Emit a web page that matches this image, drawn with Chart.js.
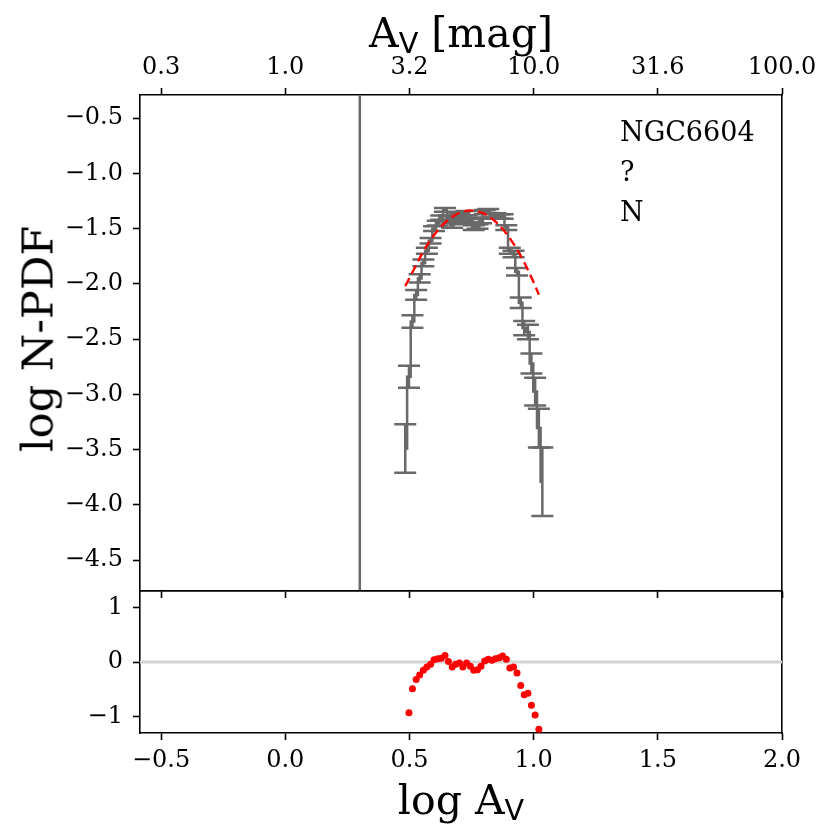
<!DOCTYPE html>
<html>
<head>
<meta charset="utf-8">
<title>NGC6604 N-PDF</title>
<script src="https://cdn.jsdelivr.net/npm/chart.js@4.4.1/dist/chart.umd.min.js"></script>
<style>
  body { margin: 0; background: #fff; }
  #wrap { position: relative; width: 830px; height: 840px; font-family: 'DejaVu Serif', serif; color: #000; }
  canvas { position: absolute; left: 0; top: 0; }
  .title { position: absolute; white-space: nowrap; line-height: 1; font-size: 41px; }
  .title sub { font-family: 'DejaVu Sans', sans-serif; font-size: 0.7em; vertical-align: baseline; position: relative; top: 0.22em; }
  #notes { position: absolute; left: 620px; top: 112px; font-size: 27px; line-height: 40px; }
</style>
</head>
<body>
<div id="wrap">
  <canvas id="main" width="830" height="840"></canvas>
  <canvas id="resid" width="830" height="840"></canvas>
  <div class="title" style="left:461px; top:13px; transform:translateX(-50%);">A<sub>V</sub> [mag]</div>
  <div class="title" style="left:461px; top:780px; transform:translateX(-50%);">log A<sub>V</sub></div>
  <div class="title" style="left:38px; top:339px; font-size:43px; transform:translate(-50%,-50%) rotate(-90deg);">log N-PDF</div>
  <div id="notes">NGC6604<br>?<br>N</div>
</div>
<script>
// binned N-PDF (log Av, log N-PDF, 1-sigma error)
const logAv = [0.483, 0.498, 0.512, 0.527, 0.541, 0.556, 0.570, 0.585, 0.599, 0.614,
               0.628, 0.643, 0.657, 0.672, 0.686, 0.701, 0.715, 0.730, 0.745, 0.759,
               0.774, 0.788, 0.803, 0.817, 0.832, 0.846, 0.861, 0.875, 0.890, 0.904,
               0.919, 0.933, 0.948, 0.962, 0.977, 0.991, 1.006, 1.021, 1.035];
const logPdf = [-3.49, -2.84, -2.34, -2.10, -1.95, -1.81, -1.70, -1.61, -1.50, -1.45,
                -1.40, -1.33, -1.40, -1.47, -1.41, -1.38, -1.44, -1.36, -1.42, -1.49,
                -1.48, -1.43, -1.35, -1.34, -1.38, -1.38, -1.39, -1.39, -1.49, -1.70,
                -1.73, -1.89, -2.17, -2.40, -2.435, -2.72, -2.975, -3.305, -3.79];
const pdfErr = [0.22, 0.10, 0.056, 0.044, 0.037, 0.031, 0.028, 0.025, 0.022, 0.021,
                0.020, 0.018, 0.020, 0.021, 0.020, 0.019, 0.020, 0.019, 0.020, 0.021,
                0.021, 0.020, 0.019, 0.019, 0.019, 0.019, 0.020, 0.020, 0.022, 0.028,
                0.029, 0.034, 0.048, 0.065, 0.065, 0.09, 0.125, 0.175, 0.31];

// lognormal fit (red dashed)
const fitLogAv = [0.483, 0.52, 0.56, 0.60, 0.64, 0.68, 0.72, 0.76, 0.80, 0.84, 0.88, 0.92, 0.96, 1.00, 1.021];
const fitLogPdf = [-2.02, -1.86, -1.69, -1.555, -1.452, -1.382, -1.343, -1.338, -1.364, -1.424, -1.516, -1.64, -1.797, -1.986, -2.098];

// residuals, null where outside the panel
const residual = [null, -0.93, -0.49, -0.32, -0.24, -0.15, -0.09, -0.04, 0.04, 0.06,
                  0.07, 0.12, 0.01, -0.09, -0.04, -0.02, -0.09, -0.02, -0.08, -0.15,
                  -0.14, -0.08, 0.02, 0.05, 0.03, 0.06, 0.08, 0.11, 0.05, -0.11,
                  -0.09, -0.20, -0.43, -0.60, -0.57, -0.79, -0.97, -1.23, null];

const completenessLimit = 0.3;

// ticks
const xTickValues = [-0.5, 0.0, 0.5, 1.0, 1.5, 2.0];
const avTickLabels = ['0.3', '1.0', '3.2', '10.0', '31.6', '100.0'];
const yTickValues = [-4.5, -4.0, -3.5, -3.0, -2.5, -2.0, -1.5, -1.0, -0.5];
const residTickValues = [-1, 0, 1];

Chart.defaults.font.family = "'DejaVu Serif', serif";
Chart.defaults.font.size = 24;
Chart.defaults.color = '#000';
Chart.defaults.animation = false;

const GRAY = '#696969';
const LW = 1.6;

function fmt(v, d) {
  const s = Math.abs(v).toFixed(d);
  return v < -1e-9 ? '\u2212' + s : s;
}

function setTicks(values) {
  return (scale) => { scale.ticks = values.map(v => ({ value: v })); };
}

function tickGrid() {
  return { display: true, drawOnChartArea: false, drawTicks: true, tickLength: 7, tickColor: '#000', tickWidth: LW };
}

const border = { display: true, color: '#000', width: LW };

function spineOnly(position, minV, maxV) {
  return {
    type: 'linear', position: position, min: minV, max: maxV,
    ticks: { display: false },
    grid: { display: false },
    border: border,
    afterBuildTicks: setTicks([]),
    afterFit: (s) => { if (s.isHorizontal()) s.height = 0; else s.width = 0; }
  };
}

const errorBars = {
  id: 'errorBars',
  afterDatasetDraw(chart, args) {
    if (chart.data.datasets[args.index].label !== 'data') return;
    const { ctx, chartArea, scales: { x, y } } = chart;
    ctx.save();
    ctx.beginPath();
    ctx.rect(chartArea.left, chartArea.top, chartArea.width, chartArea.height);
    ctx.clip();
    ctx.strokeStyle = GRAY;
    ctx.lineWidth = 2.5;
    logAv.forEach((av, i) => {
      const px = x.getPixelForValue(av);
      const hi = y.getPixelForValue(logPdf[i] + pdfErr[i]);
      const lo = y.getPixelForValue(logPdf[i] - pdfErr[i]);
      ctx.beginPath();
      ctx.moveTo(px, hi); ctx.lineTo(px, lo);
      ctx.moveTo(px - 11, hi); ctx.lineTo(px + 11, hi);
      ctx.moveTo(px - 11, lo); ctx.lineTo(px + 11, lo);
      ctx.stroke();
    });
    ctx.restore();
  }
};

const X_MIN = -0.585, X_MAX = 2.0;
const Y_MIN = -4.78, Y_MAX = -0.29;
const R_MIN = -1.3, R_MAX = 1.3;

new Chart(document.getElementById('main'), {
  type: 'line',
  data: {
    datasets: [
      {
        label: 'fit',
        data: fitLogAv.map((x, i) => ({ x: x, y: fitLogPdf[i] })),
        borderColor: '#ff0000', borderWidth: 2.4, borderDash: [9, 5],
        pointRadius: 0, tension: 0.4, order: 0
      },
      {
        label: 'data',
        data: logAv.map((x, i) => ({ x: x, y: logPdf[i] })),
        borderColor: GRAY, borderWidth: 2.5, stepped: 'middle',
        pointRadius: 0, order: 1
      },
      {
        label: 'limit',
        data: [{ x: completenessLimit, y: Y_MIN - 1 }, { x: completenessLimit, y: Y_MAX + 1 }],
        borderColor: GRAY, borderWidth: 2.5, pointRadius: 0, order: 2
      }
    ]
  },
  options: {
    responsive: false,
    layout: { padding: { left: 0, top: 0, right: 48, bottom: 239 } },
    plugins: { legend: { display: false }, tooltip: { enabled: false } },
    scales: {
      x: {
        type: 'linear', position: 'bottom', min: X_MIN, max: X_MAX,
        ticks: { display: false },
        grid: tickGrid(), border: border,
        afterBuildTicks: setTicks(xTickValues),
        afterFit: (s) => { s.height = 10; }
      },
      xTop: {
        type: 'linear', position: 'top', min: X_MIN, max: X_MAX,
        ticks: { padding: 6, callback: (v) => avTickLabels[xTickValues.indexOf(v)] },
        grid: tickGrid(), border: border,
        afterBuildTicks: setTicks(xTickValues),
        afterFit: (s) => { s.height = 95; }
      },
      y: {
        type: 'linear', position: 'left', min: Y_MIN, max: Y_MAX,
        ticks: { padding: 10, callback: (v) => fmt(v, 1) },
        grid: tickGrid(), border: border,
        afterBuildTicks: setTicks(yTickValues),
        afterFit: (s) => { s.width = 140; }
      },
      yRight: spineOnly('right', Y_MIN, Y_MAX)
    }
  },
  plugins: [errorBars]
});

new Chart(document.getElementById('resid'), {
  type: 'line',
  data: {
    datasets: [
      {
        label: 'residual',
        data: logAv.map((x, i) => ({ x: x, y: residual[i] })),
        showLine: false, pointRadius: 3.5, pointBorderWidth: 0,
        pointBackgroundColor: '#ff0000', borderColor: '#ff0000', order: 0
      },
      {
        label: 'zero',
        data: [{ x: X_MIN - 1, y: 0 }, { x: X_MAX + 1, y: 0 }],
        borderColor: '#d3d3d3', borderWidth: 3, pointRadius: 0, order: 1
      }
    ]
  },
  options: {
    responsive: false,
    layout: { padding: { left: 0, top: 591, right: 48, bottom: 0 } },
    plugins: { legend: { display: false }, tooltip: { enabled: false } },
    scales: {
      x: {
        type: 'linear', position: 'bottom', min: X_MIN, max: X_MAX,
        ticks: { padding: 6, callback: (v) => fmt(v, 1) },
        grid: tickGrid(), border: border,
        afterBuildTicks: setTicks(xTickValues),
        afterFit: (s) => { s.height = 107; }
      },
      xTop: spineOnly('top', X_MIN, X_MAX),
      y: {
        type: 'linear', position: 'left', min: R_MIN, max: R_MAX,
        ticks: { padding: 10, callback: (v) => fmt(v, 0) },
        grid: tickGrid(), border: border,
        afterBuildTicks: setTicks(residTickValues),
        afterFit: (s) => { s.width = 140; }
      },
      yRight: spineOnly('right', R_MIN, R_MAX)
    }
  }
});
</script>
</body>
</html>
